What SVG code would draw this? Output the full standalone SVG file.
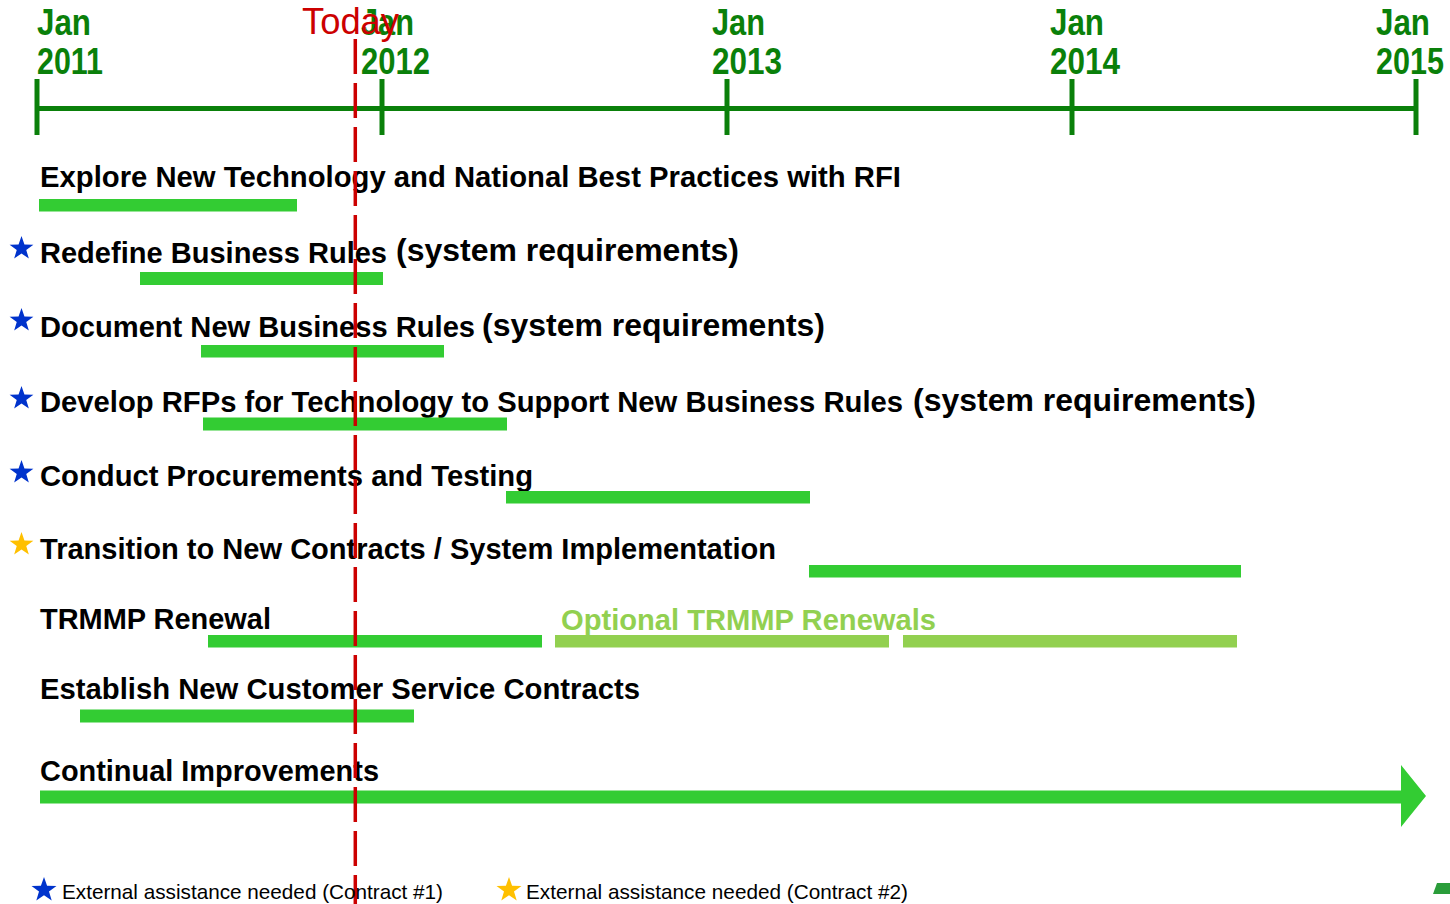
<svg xmlns="http://www.w3.org/2000/svg" xmlns:xlink="http://www.w3.org/1999/xlink" width="1450" height="904" viewBox="0 0 1450 904">
  <style>
    .yr { font-family: "Liberation Sans", Arial, sans-serif; font-weight: bold; font-size: 36px; fill: #0a800a; }
    .task { font-family: "Liberation Sans", Arial, sans-serif; font-weight: bold; font-size: 29px; fill: #000; }
    .req { font-family: "Liberation Sans", Arial, sans-serif; font-weight: bold; font-size: 32px; fill: #000; }
    .opt { fill: #92d050; }
    .bar { fill: #33cc33; }
    .optbar { fill: #92d050; }
    .axis { stroke: #0a800a; stroke-width: 5; fill: none; }
    .legend { font-family: "Liberation Sans", Arial, sans-serif; font-size: 21px; fill: #000; }
  </style>
  <defs>
    <path id="star" d="M0,-12.5 L2.939,-4.045 L11.888,-3.863 L4.755,1.545 L7.347,10.113 L0,5 L-7.347,10.113 L-4.755,1.545 L-11.888,-3.863 L-2.939,-4.045 Z"/>
  </defs>
  <rect width="1450" height="904" fill="#fff"/>

  <!-- time axis -->
  <g id="axis">
    <line class="axis" x1="37" y1="108.5" x2="1416" y2="108.5"/>
    <line class="axis" x1="37" y1="79" x2="37" y2="135"/>
    <line class="axis" x1="382" y1="79" x2="382" y2="135"/>
    <line class="axis" x1="727" y1="79" x2="727" y2="135"/>
    <line class="axis" x1="1072" y1="79" x2="1072" y2="135"/>
    <line class="axis" x1="1416" y1="79" x2="1416" y2="135"/>
    <text class="yr" x="37" y="35" textLength="54" lengthAdjust="spacingAndGlyphs">Jan</text>
    <text class="yr" x="37" y="74" textLength="66" lengthAdjust="spacingAndGlyphs">2011</text>
    <text class="yr" x="361" y="35" textLength="53" lengthAdjust="spacingAndGlyphs">Jan</text>
    <text class="yr" x="361" y="74" textLength="69" lengthAdjust="spacingAndGlyphs">2012</text>
    <text class="yr" x="712" y="35" textLength="53" lengthAdjust="spacingAndGlyphs">Jan</text>
    <text class="yr" x="712" y="74" textLength="70" lengthAdjust="spacingAndGlyphs">2013</text>
    <text class="yr" x="1050" y="35" textLength="54" lengthAdjust="spacingAndGlyphs">Jan</text>
    <text class="yr" x="1050" y="74" textLength="70" lengthAdjust="spacingAndGlyphs">2014</text>
    <text class="yr" x="1376" y="35" textLength="54" lengthAdjust="spacingAndGlyphs">Jan</text>
    <text class="yr" x="1376" y="74" textLength="68" lengthAdjust="spacingAndGlyphs">2015</text>
  </g>

  <!-- task rows -->
  <g id="task-explore">
    <text class="task" x="40" y="187" textLength="861" lengthAdjust="spacingAndGlyphs">Explore New Technology and National Best Practices with RFI</text>
    <rect class="bar" x="39" y="199" width="258" height="12.5"/>
  </g>
  <g id="task-redefine">
    <use xlink:href="#star" href="#star" x="21.5" y="248.5" fill="#0033cc"/>
    <text class="task" x="40" y="263" textLength="347" lengthAdjust="spacingAndGlyphs">Redefine Business Rules</text>
    <text class="req" x="396" y="261" textLength="343" lengthAdjust="spacingAndGlyphs">(system requirements)</text>
    <rect class="bar" x="140" y="272" width="243" height="13"/>
  </g>
  <g id="task-document">
    <use xlink:href="#star" href="#star" x="21.5" y="320.5" fill="#0033cc"/>
    <text class="task" x="40" y="337" textLength="435" lengthAdjust="spacingAndGlyphs">Document New Business Rules</text>
    <text class="req" x="482" y="336" textLength="343" lengthAdjust="spacingAndGlyphs">(system requirements)</text>
    <rect class="bar" x="201" y="345" width="243" height="12.5"/>
  </g>
  <g id="task-rfp">
    <use xlink:href="#star" href="#star" x="21.5" y="398.5" fill="#0033cc"/>
    <text class="task" x="40" y="412" textLength="863" lengthAdjust="spacingAndGlyphs">Develop RFPs for Technology to Support New Business Rules</text>
    <text class="req" x="913" y="411" textLength="343" lengthAdjust="spacingAndGlyphs">(system requirements)</text>
    <rect class="bar" x="203" y="417.5" width="304" height="13"/>
  </g>
  <g id="task-procure">
    <use xlink:href="#star" href="#star" x="21.5" y="472.5" fill="#0033cc"/>
    <text class="task" x="40" y="486" textLength="493" lengthAdjust="spacingAndGlyphs">Conduct Procurements and Testing</text>
    <rect class="bar" x="506" y="491" width="304" height="12.5"/>
  </g>
  <g id="task-transition">
    <use xlink:href="#star" href="#star" x="21.5" y="544.5" fill="#ffc000"/>
    <text class="task" x="40" y="559" textLength="736" lengthAdjust="spacingAndGlyphs">Transition to New Contracts / System Implementation</text>
    <rect class="bar" x="809" y="565" width="432" height="12.5"/>
  </g>
  <g id="task-trmmp">
    <text class="task" x="40" y="629" textLength="231" lengthAdjust="spacingAndGlyphs">TRMMP Renewal</text>
    <rect class="bar" x="208" y="635" width="334" height="12.5"/>
    <text class="task opt" x="561" y="629.5" textLength="375" lengthAdjust="spacingAndGlyphs">Optional TRMMP Renewals</text>
    <rect class="optbar" x="555" y="635" width="334" height="12.5"/>
    <rect class="optbar" x="903" y="635" width="334" height="12.5"/>
  </g>
  <g id="task-customer">
    <text class="task" x="40" y="699" textLength="600" lengthAdjust="spacingAndGlyphs">Establish New Customer Service Contracts</text>
    <rect class="bar" x="80" y="709.5" width="334" height="13"/>
  </g>
  <g id="task-improve">
    <text class="task" x="40" y="781" textLength="339" lengthAdjust="spacingAndGlyphs">Continual Improvements</text>
    <path class="bar" d="M40,790.5 H1401 V765 L1426,796 L1401,827 V803.5 H40 Z"/>
  </g>

  <!-- today marker -->
  <g id="today">
    <text x="302" y="34" textLength="97" lengthAdjust="spacingAndGlyphs" font-family="Liberation Sans, Arial, sans-serif" font-size="36" fill="#cc0000">Today</text>
    <line x1="355.3" y1="39" x2="355.3" y2="904" stroke="#cc0000" stroke-width="3.5" stroke-dasharray="35 9"/>
  </g>

  <!-- legend -->
  <g id="legend">
    <use xlink:href="#star" href="#star" transform="translate(44 890) scale(1.05)" fill="#0033cc"/>
    <text class="legend" x="62" y="899" textLength="381" lengthAdjust="spacingAndGlyphs">External assistance needed (Contract #1)</text>
    <use xlink:href="#star" href="#star" transform="translate(509 890) scale(1.05)" fill="#ffc000"/>
    <text class="legend" x="526" y="899" textLength="382" lengthAdjust="spacingAndGlyphs">External assistance needed (Contract #2)</text>
  </g>

  <!-- corner fragment -->
  <polygon points="1437,883 1450,883 1450,894 1433,894" fill="#2a9d3a"/>
</svg>
